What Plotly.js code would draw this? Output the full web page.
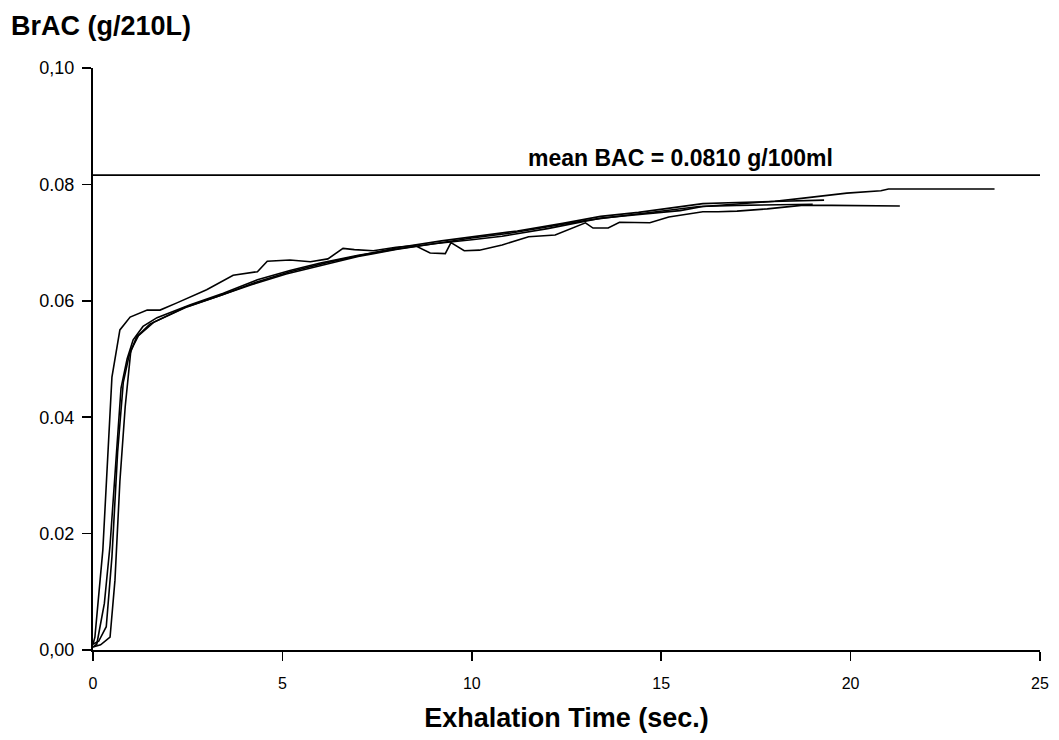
<!DOCTYPE html>
<html>
<head>
<meta charset="utf-8">
<script src="https://cdn.plot.ly/plotly-3.0.1.min.js"></script>
<style>html,body{margin:0;padding:0;background:#fff;}#chart{width:1059px;height:740px;}</style>
</head>
<body>
<div id="chart"></div>
<script>
// Curve A: fastest rise, noisy, ends ~21.3 s
const tA = [0, 0.05, 0.26, 0.5, 0.71, 0.98, 1.43, 1.77, 2.2, 3.0, 3.7, 4.34, 4.6, 5.2, 5.74, 6.2, 6.6, 6.9, 7.4, 8.0, 8.5, 8.9, 9.3, 9.45, 9.8, 10.2, 10.8, 11.5, 12.2, 13.0, 13.2, 13.6, 13.9, 14.7, 15.2, 16.1, 16.5, 17.0, 17.8, 18.7, 19.5, 20.5, 21.3];
const vA = [0.001, 0.0022, 0.0172, 0.0469, 0.055, 0.0572, 0.0584, 0.0584, 0.0596, 0.0619, 0.0644, 0.065, 0.0668, 0.067, 0.0667, 0.0672, 0.069, 0.0688, 0.0686, 0.0692, 0.0695, 0.0682, 0.0681, 0.0700, 0.0686, 0.0687, 0.0696, 0.0710, 0.0713, 0.0734, 0.0725, 0.0725, 0.0735, 0.0734, 0.0744, 0.0753, 0.0753, 0.0754, 0.0758, 0.0764, 0.0764, 0.0763, 0.0763];
// Curve B: longest, ends ~23.8 s
const tB = [0, 0.1, 0.3, 0.45, 0.6, 0.74, 0.9, 1.06, 1.32, 1.69, 2.57, 3.44, 4.34, 5.2, 6.0, 7.0, 8.1, 9.0, 10.0, 10.8, 12.0, 13.4, 14.5, 15.5, 16.1, 17.0, 18.0, 18.7, 19.4, 19.9, 20.8, 21.0, 22.0, 23.0, 23.8];
const vB = [0.0005, 0.001, 0.008, 0.018, 0.032, 0.045, 0.050, 0.0533, 0.0556, 0.0571, 0.0593, 0.0613, 0.0636, 0.0652, 0.0665, 0.0678, 0.069, 0.0698, 0.0705, 0.0711, 0.0724, 0.0742, 0.0749, 0.0755, 0.0762, 0.0766, 0.0771, 0.0776, 0.0782, 0.0785, 0.0789, 0.0792, 0.0792, 0.0792, 0.0792];
// Curve C: slowest start, ends ~19.3 s
const tC = [0, 0.2, 0.45, 0.58, 0.71, 0.85, 1.0, 1.2, 1.6, 2.5, 3.4, 4.3, 5.2, 6.2, 7.2, 8.1, 9.2, 10.2, 11.2, 12.4, 13.4, 14.4, 15.4, 16.1, 17.0, 18.0, 18.7, 19.3];
const vC = [0.0005, 0.0009, 0.0022, 0.012, 0.029, 0.0418, 0.0515, 0.054, 0.0563, 0.059, 0.061, 0.0632, 0.065, 0.0666, 0.068, 0.0692, 0.0703, 0.0711, 0.072, 0.0733, 0.0745, 0.0752, 0.0761, 0.0767, 0.0769, 0.0771, 0.0772, 0.0773];
// Curve D: ends ~19.0 s
const tD = [0, 0.15, 0.35, 0.5, 0.65, 0.8, 0.95, 1.15, 1.5, 2.4, 3.3, 4.2, 5.1, 6.1, 7.0, 8.0, 9.0, 10.0, 11.0, 12.0, 13.0, 14.0, 15.0, 16.0, 17.0, 18.0, 19.0];
const vD = [0.001, 0.0015, 0.004, 0.016, 0.034, 0.046, 0.0505, 0.0538, 0.056, 0.0588, 0.0608, 0.0628, 0.0646, 0.0662, 0.0676, 0.0688, 0.0698, 0.0708, 0.0716, 0.0727, 0.0738, 0.0746, 0.0754, 0.0762, 0.0764, 0.0765, 0.0766];
// mean line
const meanX = [0, 25];
const meanV = [0.0816, 0.0816];
const meanLabel = "mean BAC = 0.0810 g/100ml";
// ticks
const yTickVals = [0, 0.02, 0.04, 0.06, 0.08, 0.10];
const yTickText = ["0,00", "0.02", "0.04", "0.06", "0.08", "0,10"];
const xTickVals = [0, 5, 10, 15, 20, 25];
const xTickText = ["0", "5", "10", "15", "20", "25"];

const lineStyle = {color: "#000", width: 1.6};
const traces = [
  {x: tA, y: vA, mode: "lines", line: lineStyle, hoverinfo: "skip"},
  {x: tB, y: vB, mode: "lines", line: lineStyle, hoverinfo: "skip"},
  {x: tC, y: vC, mode: "lines", line: lineStyle, hoverinfo: "skip"},
  {x: tD, y: vD, mode: "lines", line: lineStyle, hoverinfo: "skip"},
  {x: meanX, y: meanV, mode: "lines", line: {color: "#000", width: 1.6}, hoverinfo: "skip"}
];

const font = "Liberation Sans, Arial, sans-serif";
const layout = {
  width: 1059, height: 740,
  margin: {l: 93, r: 19, t: 68, b: 90},
  paper_bgcolor: "#fff", plot_bgcolor: "#fff",
  showlegend: false,
  font: {family: font, color: "#000", size: 15},
  xaxis: {
    range: [0, 25], showgrid: false, zeroline: false,
    showline: true, linecolor: "#000", linewidth: 2,
    ticks: "outside", ticklen: 9, tickwidth: 1.5, tickcolor: "#000",
    tickvals: xTickVals, ticktext: xTickText,
    tickfont: {family: font, size: 16, color: "#000"},
    ticklabelstandoff: 9,
    title: {text: "<b>Exhalation Time (sec.)</b>", font: {family: font, size: 27, color: "#000"}, standoff: 17}
  },
  yaxis: {
    range: [0, 0.10], showgrid: false, zeroline: false,
    showline: true, linecolor: "#000", linewidth: 2,
    ticks: "outside", ticklen: 9, tickwidth: 1.5, tickcolor: "#000",
    tickvals: yTickVals, ticktext: yTickText,
    tickfont: {family: font, size: 18, color: "#000"},
    ticklabelstandoff: 4
  },
  annotations: [
    {text: "<b>BrAC (g/210L)</b>", xref: "paper", yref: "paper", x: -0.089, y: 1.072,
     xanchor: "left", yanchor: "middle", showarrow: false, font: {family: font, size: 27, color: "#000"}},
    {text: "<b>" + meanLabel + "</b>", xref: "x", yref: "y", x: 15.5, y: 0.0816,
     xanchor: "center", yanchor: "bottom", yshift: 2, showarrow: false, font: {family: font, size: 23, color: "#000"}}
  ]
};
Plotly.newPlot("chart", traces, layout, {displayModeBar: false, staticPlot: true});
</script>
</body>
</html>
